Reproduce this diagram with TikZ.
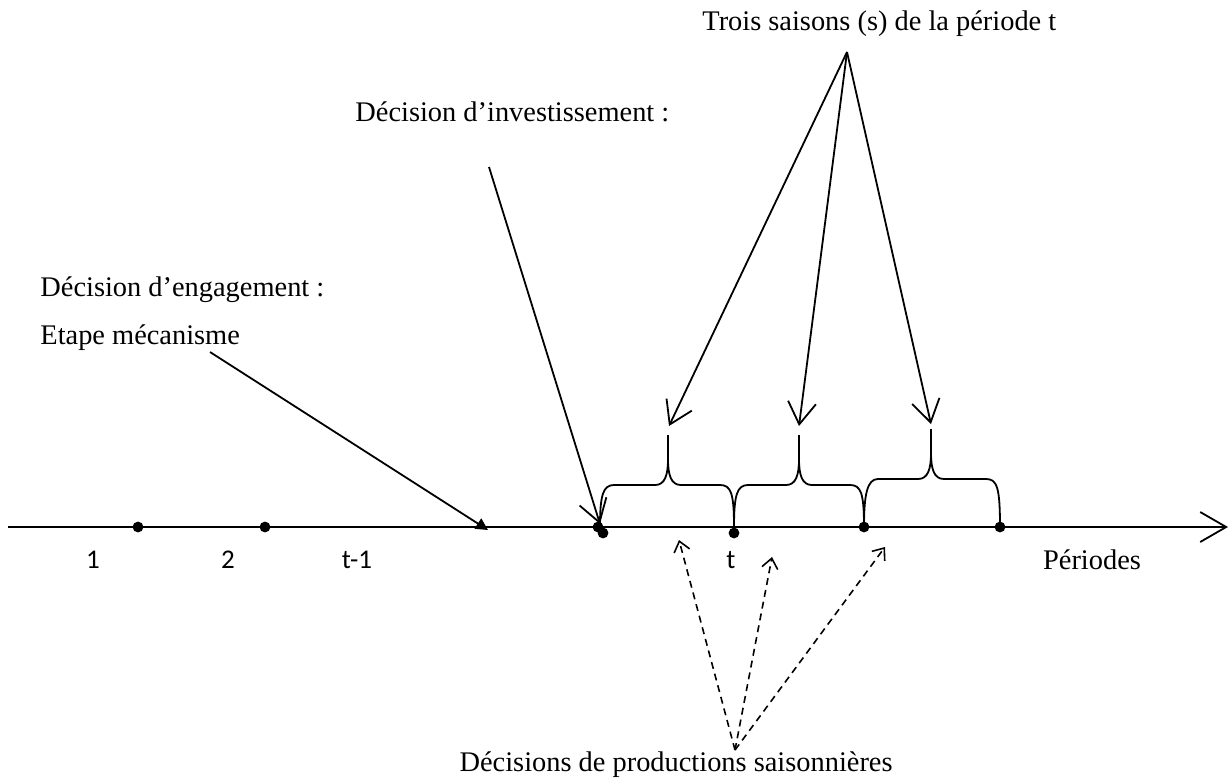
\documentclass[tikz,border=0pt]{standalone}
\usepackage{fontspec}
\setmainfont{Liberation Serif}
\newfontfamily\calib{Carlito}
\usetikzlibrary{arrows.meta}
\tikzset{
  dot/.style={circle, fill=black, inner sep=0pt, minimum size=5.4pt},
  txt/.style={inner sep=0pt, font=\fontsize{14.2}{17}\selectfont},
  num/.style={inner sep=0pt, font=\calib\fontsize{13.5}{15}\selectfont},
  arr/.style={black, line width=0.9pt, -{Straight Barb[length=11pt,width=14pt,line width=0.9pt]}},
  darr/.style={black, line width=0.8pt, dash pattern=on 3.5pt off 2.5pt, -{Straight Barb[length=5pt,width=8pt,line width=0.8pt]}},
}

\begin{document}
\begin{tikzpicture}[x=0.5pt,y=-0.5pt]
\useasboundingbox (0,0) rectangle (1232,778);
% time axis
\coordinate (start) at (8,527);
\coordinate (end) at (1228,527);
\draw[black, line width=1pt, -{Straight Barb[length=13pt,width=15pt,line width=0.9pt]}] (start) -- (end);
\node[dot] (d1) at (138,527) {};
\node[dot] (d2) at (265,527) {};
\node[dot] (d3) at (598,527) {};
\node[dot] (d4) at (603,533) {};
\node[dot] (d5) at (734,533) {};
\node[dot] (d6) at (864,527) {};
\node[dot] (d7) at (1000,527) {};
\node[num] (p1) at (93,560) {1};
\node[num] (p2) at (228,560) {2};
\node[num] (p3) at (357,560) {t-1};
\node[num] (pt) at (731,560) {t};
\node[txt] (per) at (1092,560) {Périodes};
% the three seasons
\foreach \a/\m/\b/\h in {600/668/734/485, 734/799/864/485, 864/931/1000/479}
  \draw[black, line width=0.9pt] (\a,527) .. controls (\a,495) and (\a+3,\h) .. (\a+14,\h) -- (\m-13,\h)
    .. controls (\m-3,\h) and (\m,\h-10) .. (\m,\h-26) -- (\m,\h-50)
    (\m,\h-26) .. controls (\m,\h-10) and (\m+3,\h) .. (\m+13,\h) -- (\b-14,\h)
    .. controls (\b-3,\h) and (\b,\h+8) .. (\b,527);
\node[txt, anchor=west] (trois) at (702,24) {Trois saisons (s) de la période t};
\coordinate (apex) at (847,52);
\coordinate (s1) at (669,426);
\coordinate (s2) at (799,426);
\coordinate (s3) at (931,424);
\draw[arr] (apex) -- (s1);
\draw[arr] (apex) -- (s2);
\draw[arr] (apex) -- (s3);
% investment
\node[txt, anchor=west] (invest) at (355,112) {Décision d’investissement :};
\coordinate (invfoot) at (489,167);
\coordinate (invtip) at (600,524);
\draw[arr] (invfoot) -- (invtip);
% commitment
\node[txt, anchor=west] (engag) at (40,290) {Décision d’engagement :};
\node[txt, anchor=west] (etape) at (40,338) {Etape mécanisme};
\coordinate (etfoot) at (210,352);
\coordinate (ettip) at (488,530);
\draw[black, line width=0.9pt, -{Triangle[length=6pt,width=6pt]}] (etfoot) -- (ettip);
% seasonal production
\node[txt, anchor=east] (prod) at (893,765) {Décisions de productions saisonnières};
\coordinate (pfoot) at (735,750);
\coordinate (q1) at (679,540);
\coordinate (q2) at (772,557);
\coordinate (q3) at (885,547);
\draw[darr] (pfoot) -- (q1);
\draw[darr] (pfoot) -- (q2);
\draw[darr] (pfoot) -- (q3);
\end{tikzpicture}
\end{document}
